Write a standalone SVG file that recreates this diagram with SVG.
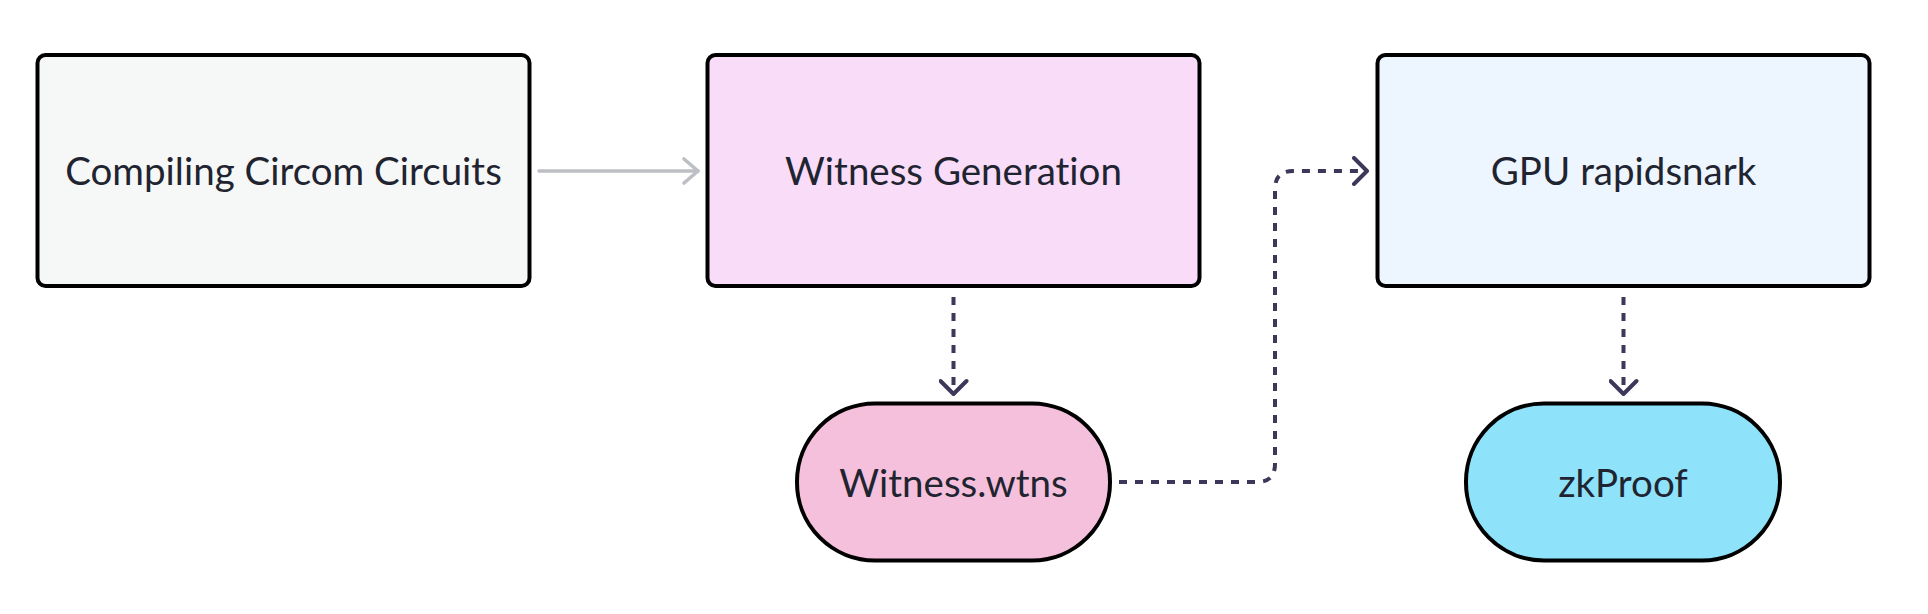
<svg xmlns="http://www.w3.org/2000/svg" width="1928" height="614" viewBox="0 0 1928 614">
<style>
.node{stroke:#000;stroke-width:4}
.lbl{font-family:Lato,"Noto Sans",sans-serif;font-size:38.5px;fill:#1f2430;text-anchor:middle;font-variant-ligatures:none}
.solid{fill:none;stroke:#bcbfc3;stroke-width:3.5;stroke-linecap:round}
.dash{fill:none;stroke:#3d3859;stroke-width:4;stroke-dasharray:8 8}
</style>
<defs>
<marker id="ag" markerUnits="userSpaceOnUse" markerWidth="30" markerHeight="30" viewBox="-20 -15 25 30" refX="0" refY="0" orient="auto">
<path d="M-14,-12 L0,0 L-14,12" fill="none" stroke="#bcbfc3" stroke-width="3.6" stroke-linecap="round" stroke-linejoin="round"/>
</marker>
<marker id="ad" markerUnits="userSpaceOnUse" markerWidth="30" markerHeight="30" viewBox="-20 -15 25 30" refX="0" refY="0" orient="auto">
<path d="M-13,-13 L0,0 L-13,13" fill="none" stroke="#3d3859" stroke-width="4" stroke-linecap="round" stroke-linejoin="round"/>
</marker>
</defs>
<rect width="1928" height="614" fill="#fff"/>
<g id="connectors">
<path class="solid" d="M539,171 H698" marker-end="url(#ag)"/>
<path class="dash" d="M953.5,297 V394" marker-end="url(#ad)"/>
<path class="dash" d="M1119,482 H1257 Q1275,482 1275,464 V189 Q1275,171 1293,171 H1367" marker-end="url(#ad)"/>
<path class="dash" d="M1623.5,297 V394" marker-end="url(#ad)"/>
</g>
<g id="compile">
<rect class="node" x="37.5" y="55" width="492" height="231" rx="8" fill="#f6f8f7"/>
<text class="lbl" x="283.5" y="185">Compiling Circom Circuits</text>
</g>
<g id="witnessgen">
<rect class="node" x="707.5" y="55" width="492" height="231" rx="8" fill="#f8dcf8"/>
<text class="lbl" x="953.5" y="185">Witness Generation</text>
</g>
<g id="gpu">
<rect class="node" x="1377.5" y="55" width="492" height="231" rx="8" fill="#edf5fe"/>
<text class="lbl" x="1623.5" y="185">GPU rapidsnark</text>
</g>
<g id="wtns">
<rect class="node" x="797" y="403.5" width="313" height="157" rx="78" fill="#f5c0dc"/>
<text class="lbl" x="953.5" y="497">Witness.wtns</text>
</g>
<g id="zkproof">
<rect class="node" x="1466" y="403.5" width="314" height="157" rx="78" fill="#8ee3fb"/>
<text class="lbl" x="1623" y="497">zkProof</text>
</g>
</svg>
